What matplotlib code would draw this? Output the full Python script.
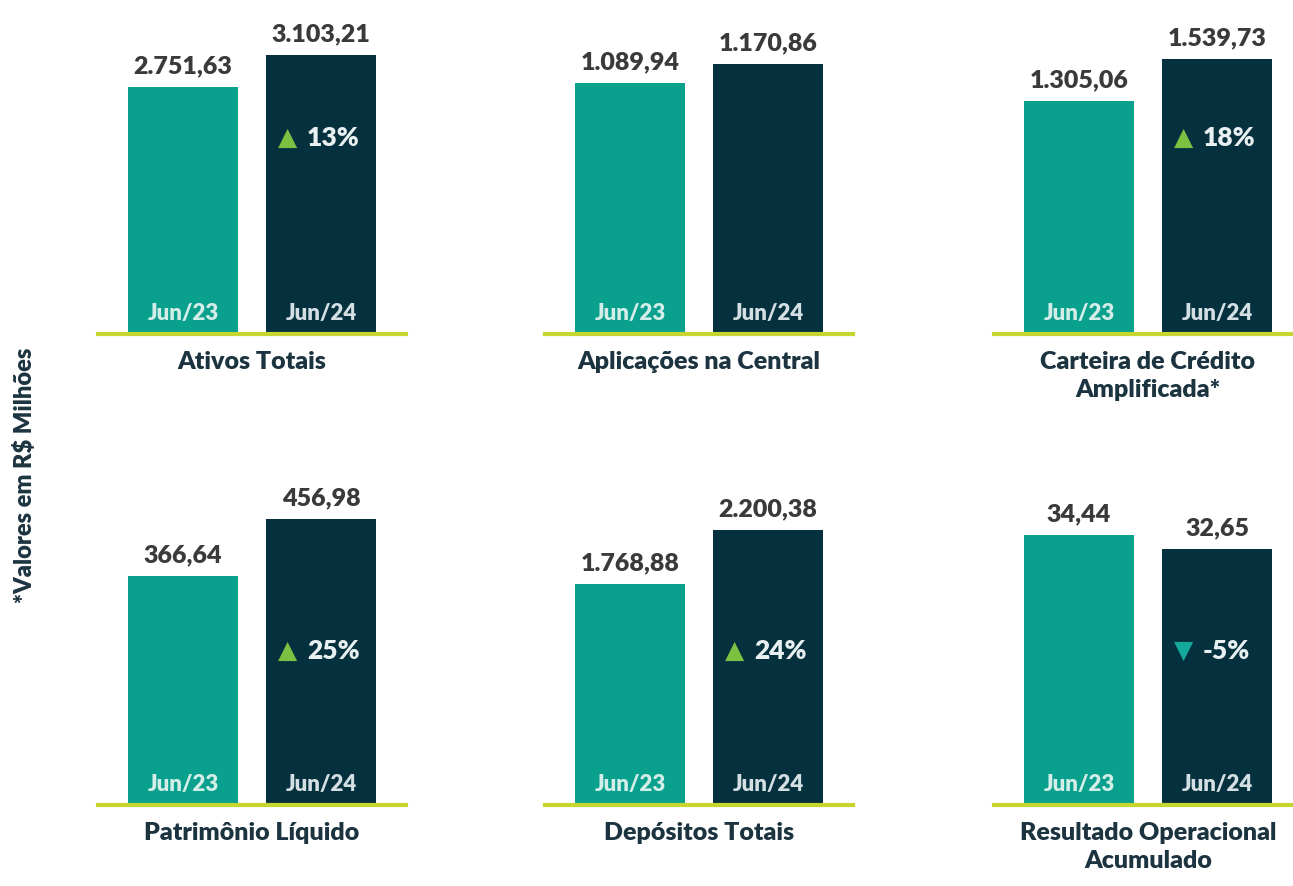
import matplotlib
matplotlib.use("Agg")
import matplotlib.pyplot as plt

plt.rcParams['font.family'] = ['Lato', 'DejaVu Sans']

# ---- data ----
titles = ["Ativos Totais", "Aplicações na Central", "Carteira de Crédito\nAmplificada*",
          "Patrimônio Líquido", "Depósitos Totais", "Resultado Operacional\nAcumulado"]
periods = ["Jun/23", "Jun/24"]
values_jun23 = [2751.63, 1089.94, 1305.06, 366.64, 1768.88, 34.44]
values_jun24 = [3103.21, 1170.86, 1539.73, 456.98, 2200.38, 32.65]
labels_jun23 = ["2.751,63", "1.089,94", "1.305,06", "366,64", "1.768,88", "34,44"]
labels_jun24 = ["3.103,21", "1.170,86", "1.539,73", "456,98", "2.200,38", "32,65"]
changes = ["13%", None, "18%", "25%", "24%", "-5%"]
ylabel = "*Valores em R$ Milhões"

# ---- style / layout ----
W, H = 1293, 886
C_OLD = "#0aa08e"
C_NEW = "#05303d"
C_LINE = "#c6d62e"
C_VAL = "#3a3a3a"
C_TITLE = "#1c3340"
C_UP = "#7cc242"
C_DOWN = "#14a99b"
WT = "heavy"

col_left = [128, 575, 1024]      # left pixel of first bar per column
row_base = [334, 805]            # baseline pixel (from top) per row
max_bar_px = [279, 270, 275, 286, 275, 270]
pct_px = [196, 196, 196, 154, 154, 154]
ax_h_px = 300

fig = plt.figure(figsize=(W / 100, H / 100), dpi=100)
fig.patch.set_facecolor("white")

for i in range(6):
    r, c = divmod(i, 3)
    L = col_left[c]
    left_px = L - 30
    width_px = 308
    base = row_base[r]
    ax = fig.add_axes([left_px / W, (H - base) / H, width_px / W, ax_h_px / H])
    ax.set_xlim(-85 / 138, 1 + 85 / 138)
    vmax = max(values_jun23[i], values_jun24[i])
    ax.set_ylim(0, vmax * ax_h_px / max_bar_px[i])
    ax.axis("off")

    vals = [values_jun23[i], values_jun24[i]]
    labs = [labels_jun23[i], labels_jun24[i]]
    ax.bar([0, 1], vals, width=110 / 138, color=[C_OLD, C_NEW], zorder=2)
    ax.axhline(0, color=C_LINE, lw=3, zorder=3, clip_on=False)

    for x, v, lab in zip([0, 1], vals, labs):
        ax.annotate(lab, (x, v), xytext=(0, 7), textcoords="offset points",
                    ha="center", va="bottom", fontsize=18, fontweight=WT,
                    color=C_VAL)
    for x, p, tc in zip([0, 1], periods, ["#d3eee9", "#d3dfe2"]):
        ax.annotate(p, (x, 0), xytext=(0, 15), textcoords="offset points",
                    ha="center", va="center", fontsize=16, fontweight=WT,
                    color=tc, zorder=4)

    ch = changes[i]
    if ch is not None:
        up = not ch.startswith("-")
        ax.annotate("▲" if up else "▼", (1, 0), xytext=(-24, pct_px[i] * 0.72),
                    textcoords="offset points", ha="center", va="center",
                    fontsize=18, color=C_UP if up else C_DOWN, zorder=4,
                    family=["DejaVu Sans"])
        ax.annotate(ch, (1, 0), xytext=(-10, pct_px[i] * 0.72),
                    textcoords="offset points", ha="left", va="center",
                    fontsize=19, fontweight=WT, color="#e9f0f1", zorder=4)

    ax.annotate(titles[i], (0.5, 0), xytext=(0, -12), textcoords="offset points",
                ha="center", va="top", fontsize=18, fontweight=WT,
                color=C_TITLE, linespacing=1.35, annotation_clip=False)

fig.text(25 / W, 1 - 475 / H, ylabel, rotation=90, ha="center", va="center",
         fontsize=17, fontweight=WT, color=C_TITLE)

fig.savefig("out.png", dpi=100, facecolor="white")
